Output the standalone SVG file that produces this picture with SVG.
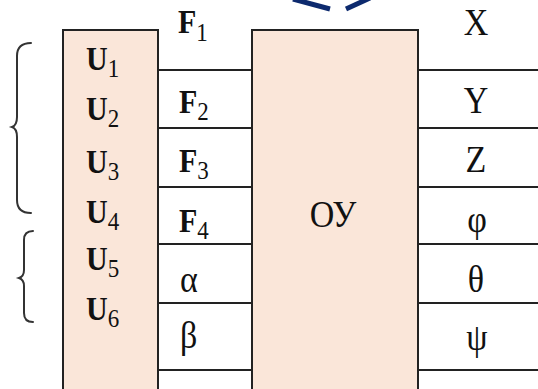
<svg xmlns="http://www.w3.org/2000/svg" width="538" height="389" viewBox="0 0 538 389">
<style>
.box{fill:#fae6d9;stroke:#222;stroke-width:2}
.ln{stroke:#222;stroke-width:1.8;fill:none}
.br{stroke:#333;stroke-width:2;fill:none;stroke-linecap:round}
.t{font-family:"Liberation Serif","Times New Roman",serif;font-size:34px;fill:#111}
.b{font-weight:bold;font-size:30px}
.s{font-size:23px;font-weight:normal}
.chev{stroke:#0d2a6e;stroke-width:5;fill:none}
</style>
<rect width="538" height="389" fill="#fff"/>
<g id="chevron">
<line class="chev" x1="293" y1="-1" x2="330" y2="9"/>
<line class="chev" x1="346" y1="9" x2="370" y2="-2"/>
</g>
<g id="brace1"><path class="br" d="M31,43 C22,43 17,47 17,56 L17,117 C17,123 15,126 12,127 C15,128 17,131 17,137 L17,200 C17,209 22,213 31,213"/></g>
<g id="brace2"><path class="br" d="M33,231 C27,231 24,234 24,240 L24,270 C24,275 22,277 19,278 C22,279 24,281 24,286 L24,313 C24,319 27,322 33,322"/></g>
<g id="inputs">
<rect class="box" x="63" y="30" width="95" height="370"/>
<text class="t b" transform="translate(86,70) scale(1,1.13)">U<tspan class="s" dy="6">1</tspan></text>
<text class="t b" transform="translate(86,120) scale(1,1.13)">U<tspan class="s" dy="6">2</tspan></text>
<text class="t b" transform="translate(86,173) scale(1,1.13)">U<tspan class="s" dy="6">3</tspan></text>
<text class="t b" transform="translate(86,223) scale(1,1.13)">U<tspan class="s" dy="6">4</tspan></text>
<text class="t b" transform="translate(86,270) scale(1,1.13)">U<tspan class="s" dy="6">5</tspan></text>
<text class="t b" transform="translate(86,320) scale(1,1.13)">U<tspan class="s" dy="6">6</tspan></text>
</g>
<g id="ou">
<rect class="box" x="252" y="30" width="166" height="370"/>
<text class="t" transform="translate(333,227) scale(1,1.13)" text-anchor="middle">ОУ</text>
</g>
<g id="connectors">
<path class="ln" d="M158,70H252M158,128H252M158,187H252M158,244H252M158,303H252M158,370H252"/>
<path class="ln" d="M418,70H538M418,128H538M418,187H538M418,244H538M418,303H538M418,370H538"/>
</g>
<g id="forces">
<text class="t b" transform="translate(178,33) scale(1,1.13)">F<tspan class="s" dy="7">1</tspan></text>
<text class="t b" transform="translate(179,113) scale(1,1.13)">F<tspan class="s" dy="6">2</tspan></text>
<text class="t b" transform="translate(179,172) scale(1,1.13)">F<tspan class="s" dy="6">3</tspan></text>
<text class="t b" transform="translate(179,232) scale(1,1.13)">F<tspan class="s" dy="6">4</tspan></text>
<text class="t" transform="translate(180,292) scale(1,1.13)">α</text>
<text class="t" transform="translate(180,348) scale(1,1.13)">β</text>
</g>
<g id="outputs">
<text class="t" transform="translate(476,35) scale(1,1.13)" text-anchor="middle">X</text>
<text class="t" transform="translate(476,113) scale(1,1.13)" text-anchor="middle">Y</text>
<text class="t" transform="translate(476,172) scale(1,1.13)" text-anchor="middle">Z</text>
<text class="t" transform="translate(477,232) scale(1,1.13)" text-anchor="middle">φ</text>
<text class="t" transform="translate(476,292) scale(1,1.13)" text-anchor="middle">θ</text>
<text class="t" transform="translate(477,350) scale(1,1.13)" text-anchor="middle">ψ</text>
</g>
</svg>
